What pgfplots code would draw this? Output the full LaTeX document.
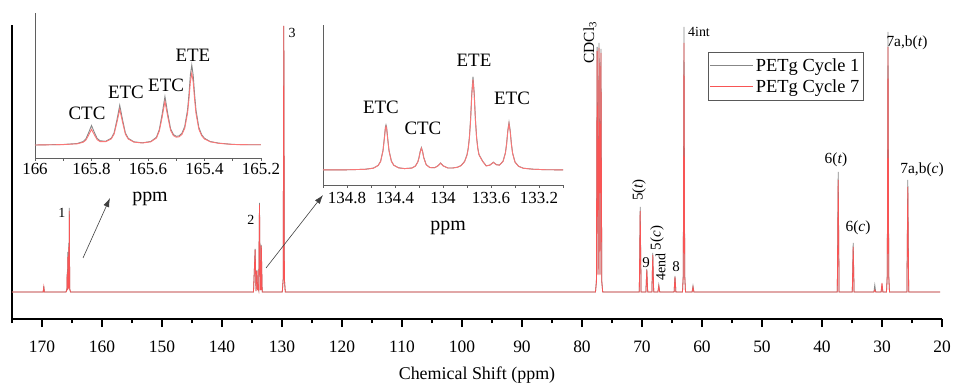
\documentclass[border=0pt]{standalone}
\usepackage{fontspec}
\setmainfont{Liberation Serif}
\usepackage{pgfplots}
\pgfplotsset{compat=1.18}
\usepackage{pgfplotstable}
\usetikzlibrary{arrows.meta}
\definecolor{specgray}{RGB}{135,135,135}
\definecolor{specred}{RGB}{248,85,85}
\definecolor{insetax}{RGB}{95,95,95}

\pgfplotstableread{
x g r
175 27 27
170.0 27 27
169.8 27 27
169.7 33 32
169.6 27 27
166.0 27 27
165.85 30 29
165.80 47 44
165.75 30 29
165.70 67 62
165.62 31 30
165.54 76 72
165.50 32 31
165.445 111 108
165.38 30 30
165.25 27 27
134.75 27 27
134.475 70 69
134.33 28 28
134.18 49 48
134.06 29 29
134.02 33 33
133.88 29 29
133.75 116 114
133.62 29 29
133.58 32 32
133.52 29 29
133.45 74 73
133.30 27 27
129.95 27 27
129.8 40 40
129.7 293 293
129.6 40 40
129.45 27 27
77.75 27 27
77.6 38 37
77.48 272 268
77.32 45 44
77.16 276 271
77.0 45 44
76.84 270 266
76.7 38 37
76.55 27 27
70.45 27 27
70.3 112 108
70.15 27 27
69.35 27 27
69.2 50 49
69.05 27 27
68.35 27 27
68.2 66 64
68.05 27 27
67.35 27 27
67.2 34 33
67.05 27 27
64.65 27 27
64.5 43 42
64.35 27 27
63.25 27 27
63.12 45 43
63.0 292 276
62.88 45 43
62.75 27 27
61.65 27 27
61.5 33 32
61.35 27 27
37.45 27 27
37.3 147 139
37.15 27 27
34.95 27 27
34.8 76 72
34.65 27 27
31.35 27 27
31.2 34 29
31.05 27 27
30.15 27 27
30.0 33 36
29.85 27 27
29.25 27 27
29.12 45 43
29.0 287 272
28.88 45 43
28.75 27 27
25.85 27 27
25.7 139 132
25.55 27 27
20.3 27 27
}\maintab

\pgfplotstableread{
x g r
166.00 13.0 13.0
165.90 13.5 13.4
165.85 14.5 14.2
165.83 16.4 15.7
165.82 19.0 17.8
165.81 25.4 22.9
165.80 32.5 28.6
165.79 25.7 23.2
165.78 19.6 18.3
165.77 17.3 16.4
165.75 16.7 16.3
165.73 19.8 19.1
165.72 25.1 23.9
165.71 38.0 35.5
165.70 52.7 48.7
165.69 38.2 35.7
165.68 25.0 23.8
165.67 19.7 19.0
165.65 16.2 15.9
165.62 15.2 15.0
165.59 16.5 16.2
165.57 20.8 20.0
165.56 28.4 26.9
165.55 43.7 40.6
165.54 61.5 56.6
165.53 44.3 41.2
165.52 29.3 27.7
165.51 23.4 22.4
165.50 21.7 20.8
165.49 22.1 21.2
165.48 24.7 23.5
165.47 31.4 29.6
165.46 48.2 44.7
165.455 63.8 58.7
165.45 82.9 75.9
165.445 93.0 85.0
165.44 82.8 75.8
165.435 63.5 58.5
165.43 47.8 44.3
165.42 30.6 28.8
165.41 23.3 22.3
165.40 19.7 19.0
165.38 16.5 16.2
165.35 14.9 14.7
165.30 13.6 13.5
165.25 13.3 13.3
165.20 13.2 13.2
}\insetA

\pgfplotstableread{
x g r
135.00 15.1 15.1
134.80 15.2 15.2
134.65 15.7 15.7
134.58 16.9 16.8
134.54 19.6 19.5
134.52 23.7 23.4
134.50 34.6 34.0
134.49 45.7 44.8
134.48 57.8 56.5
134.475 60.1 58.7
134.47 57.9 56.6
134.46 45.8 44.9
134.45 34.7 34.1
134.43 23.9 23.6
134.41 19.8 19.7
134.37 17.2 17.1
134.32 16.4 16.4
134.26 17.0 16.9
134.23 19.0 18.9
134.21 23.1 22.9
134.20 27.5 27.1
134.19 33.6 33.0
134.18 37.5 36.8
134.17 33.6 33.0
134.16 27.4 27.0
134.14 20.4 20.2
134.11 17.5 17.4
134.07 17.3 17.2
134.04 19.4 19.3
134.02 22.0 21.8
134.00 19.3 19.2
133.96 17.0 17.0
133.92 17.0 17.0
133.88 17.8 17.7
133.85 19.4 19.3
133.82 23.6 23.3
133.80 30.3 29.8
133.79 36.8 36.1
133.78 47.8 46.8
133.77 66.2 64.7
133.76 92.3 90.0
133.75 108.3 105.5
133.74 92.4 90.1
133.73 66.3 64.8
133.72 47.9 46.9
133.71 37.0 36.3
133.70 30.5 30.0
133.67 23.9 23.6
133.64 19.2 19.1
133.61 19.9 19.8
133.58 22.8 22.6
133.555 20.4 20.2
133.53 19.9 19.8
133.50 23.7 23.4
133.48 32.2 31.7
133.47 41.4 40.6
133.46 54.6 53.4
133.45 62.6 61.2
133.44 54.5 53.3
133.43 41.3 40.5
133.42 32.0 31.5
133.40 23.0 22.8
133.37 18.7 18.6
133.33 16.8 16.7
133.25 15.8 15.8
133.15 15.3 15.3
133.00 15.1 15.1
}\insetB

\begin{document}
\begin{tikzpicture}
\begin{axis}[
  name=main, at={(0,0)}, anchor=south west,
  scale only axis, width=930bp, height=294bp,
  xmin=20, xmax=175, ymin=0, ymax=294,
  x dir=reverse, clip=false,
  axis x line*=bottom, axis y line*=left,
  axis line style={black, line width=1.3bp},
  ytick=\empty,
  xtick={20,30,...,170}, minor xtick={25,35,...,175},
  tick align=outside, major tick length=8bp, minor tick length=4bp,
  every tick/.style={black, line width=1.2bp},
  /pgf/number format/assume math mode=true,
  xticklabel style={font=\fontsize{17.5}{17.5}\selectfont, anchor=center, yshift=-20bp},
  xlabel={Chemical Shift (ppm)},
  xlabel style={font=\fontsize{18}{18}\selectfont, at={(axis description cs:0.5,0)}, anchor=center, yshift=-56bp},
  legend style={at={(0.748,0.908)}, anchor=north west, draw=black!65, line width=0.6bp,
     font=\fontsize{18.5}{21}\selectfont, inner xsep=2bp, inner ysep=4bp, row sep=3bp},
  legend cell align=left,
  legend image code/.code={\draw[#1, line width=1bp] (0bp,0bp) -- (43bp,0bp);},
]
\addplot[specgray, line width=0.8bp] table[x=x, y=g]{\maintab};
\addlegendentry{PETg Cycle 1}
\addplot[specred, line width=0.8bp] table[x=x, y=r]{\maintab};
\addlegendentry{PETg Cycle 7}
\node[font=\fontsize{14}{14}\selectfont] at (axis cs:166.67,106) {1};
\node[font=\fontsize{14}{14}\selectfont] at (axis cs:135.17,99) {2};
\node[font=\fontsize{14}{14}\selectfont] at (axis cs:128.33,286) {3};
\node[font=\fontsize{15.5}{15.5}\selectfont, rotate=90] at (axis cs:78.67,276.5) {CDCl\textsubscript{3}};
\node[font=\fontsize{14}{14}\selectfont] at (axis cs:60.5,287) {4int};
\node[font=\fontsize{15}{15}\selectfont, rotate=90] at (axis cs:70.5,129) {5(\textit{t})};
\node[font=\fontsize{15}{15}\selectfont] at (axis cs:69.33,56) {9};
\node[font=\fontsize{15}{15}\selectfont, rotate=90] at (axis cs:67.5,81) {5(\textit{c})};
\node[font=\fontsize{14}{14}\selectfont, rotate=90] at (axis cs:66.9,52) {4end};
\node[font=\fontsize{15}{15}\selectfont] at (axis cs:64.33,52) {8};
\node[font=\fontsize{15.5}{15.5}\selectfont] at (axis cs:37.67,159) {6(\textit{t})};
\node[font=\fontsize{15.5}{15.5}\selectfont] at (axis cs:34.0,91) {6(\textit{c})};
\node[font=\fontsize{15.5}{15.5}\selectfont] at (axis cs:25.83,276) {7a,b(\textit{t})};
\node[font=\fontsize{15.5}{15.5}\selectfont] at (axis cs:23.33,149) {7a,b(\textit{c})};
\end{axis}

\begin{axis}[
  at={(23bp,161bp)}, anchor=south west,
  scale only axis, width=226bp, height=145bp,
  xmin=165.2, xmax=166, ymin=0, ymax=145,
  x dir=reverse, clip=false,
  axis x line*=bottom, axis y line*=left,
  axis line style={insetax, line width=0.8bp},
  ytick=\empty,
  xtick={165.2,165.4,165.6,165.8,166}, xticklabels={165.2,165.4,165.6,165.8,166},
  minor xtick={165.3,165.5,165.7,165.9},
  tick align=outside, major tick length=3bp, minor tick length=3bp,
  every tick/.style={insetax, line width=0.7bp},
  xticklabel style={font=\fontsize{17}{17}\selectfont, anchor=center, yshift=-8bp},
  xlabel={ppm},
  xlabel style={font=\fontsize{20}{20}\selectfont, at={(axis description cs:0.509,0)}, anchor=center, yshift=-41bp},
]
\addplot[specgray, line width=0.9bp] table[x=x, y=g]{\insetA};
\addplot[specred!80, line width=0.9bp] table[x=x, y=r]{\insetA};
\node[font=\fontsize{19}{19}\selectfont] at (axis cs:165.816,45) {CTC};
\node[font=\fontsize{19}{19}\selectfont] at (axis cs:165.678,66) {ETC};
\node[font=\fontsize{19}{19}\selectfont] at (axis cs:165.536,73) {ETC};
\node[font=\fontsize{19}{19}\selectfont] at (axis cs:165.441,103) {ETE};
\end{axis}

\begin{axis}[
  at={(311bp,134bp)}, anchor=south west,
  scale only axis, width=240bp, height=160bp,
  xmin=133, xmax=135, ymin=0, ymax=160,
  x dir=reverse, clip=false,
  axis x line*=bottom, axis y line*=left,
  axis line style={insetax, line width=0.8bp},
  ytick=\empty,
  xtick={133.2,133.6,134,134.4,134.8}, xticklabels={133.2,133.6,134,134.4,134.8},
  minor xtick={133,133.4,133.8,134.2,134.6,135},
  tick align=outside, major tick length=3bp, minor tick length=3bp,
  every tick/.style={insetax, line width=0.7bp},
  xticklabel style={font=\fontsize{17}{17}\selectfont, anchor=center, yshift=-10bp},
  xlabel={ppm},
  xlabel style={font=\fontsize{20}{20}\selectfont, at={(axis description cs:0.521,0)}, anchor=center, yshift=-43bp},
]
\addplot[specgray, line width=0.9bp] table[x=x, y=g]{\insetB};
\addplot[specred!80, line width=0.9bp] table[x=x, y=r]{\insetB};
\node[font=\fontsize{19}{19}\selectfont] at (axis cs:134.517,78) {ETC};
\node[font=\fontsize{19}{19}\selectfont] at (axis cs:134.167,57) {CTC};
\node[font=\fontsize{19}{19}\selectfont] at (axis cs:133.742,125) {ETE};
\node[font=\fontsize{19}{19}\selectfont] at (axis cs:133.425,87) {ETC};
\end{axis}

\draw[-{Latex[length=9bp,width=6bp]}, line width=0.6bp, black!75] (71bp,61bp) -- (98bp,121bp);
\draw[-{Latex[length=9bp,width=6bp]}, line width=0.6bp, black!75] (254bp,51bp) -- (311bp,124bp);

\pgfresetboundingbox
\path[use as bounding box] (-12bp,-73bp) rectangle (941bp,319bp);
\end{tikzpicture}
\end{document}
